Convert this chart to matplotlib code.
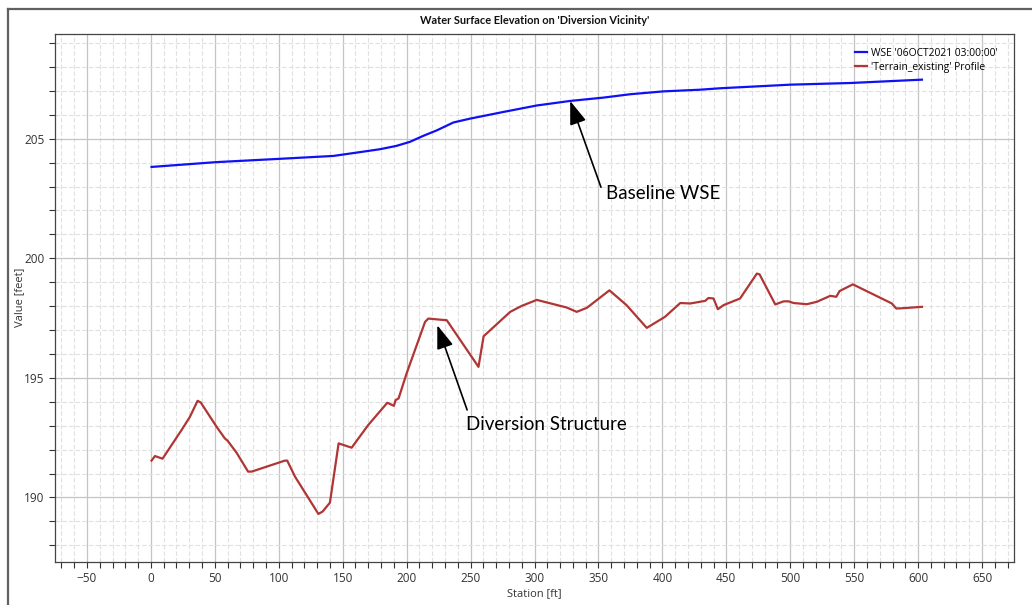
import matplotlib
matplotlib.use("Agg")
import matplotlib.pyplot as plt
from matplotlib.ticker import MultipleLocator
from matplotlib.lines import Line2D

# Water surface profile (station ft, elevation ft)
wse_station = [0.5, 50.8, 101, 142.7, 161, 179, 192, 202.6, 213, 223.6, 236.6,
               249.6, 275.7, 301.8, 327.9, 354, 374.8, 400.9, 429.6, 445.2,
               500, 547, 603]
wse_elev = [203.82, 204.02, 204.16, 204.28, 204.42, 204.56, 204.70, 204.87,
            205.12, 205.35, 205.68, 205.84, 206.12, 206.39, 206.58, 206.72,
            206.86, 206.98, 207.05, 207.11, 207.26, 207.33, 207.47]

# Existing terrain profile
terrain_station = [0.5, 3.2, 9.1, 24, 30.5, 36.5, 39, 51.3, 57.8, 60, 67, 76,
                   78.8, 104.8, 106.6, 112.7, 131, 134.3, 140, 146.8, 157, 170,
                   184.9, 190, 191.4, 193.7, 200, 214.4, 217, 224.8, 231.4,
                   256.2, 260.2, 281, 290, 301.8, 325.3, 333, 341, 358.6, 372,
                   387.8, 402, 414, 421.8, 433.5, 436, 440, 443.4, 447.8,
                   460.8, 473.9, 476, 488.3, 494.8, 498.7, 502.6, 513, 520.8,
                   531.3, 536, 538.6, 549, 579.5, 582.9, 587.3, 603]
terrain_elev = [191.54, 191.73, 191.62, 192.82, 193.37, 194.04, 193.97, 192.96,
                192.47, 192.37, 191.87, 191.08, 191.08, 191.54, 191.54, 190.87,
                189.31, 189.41, 189.78, 192.26, 192.08, 193.03, 193.96, 193.83,
                194.07, 194.14, 195.19, 197.34, 197.48, 197.44, 197.41, 195.46,
                196.74, 197.76, 198.01, 198.26, 197.94, 197.76, 197.93, 198.66,
                198.04, 197.09, 197.55, 198.13, 198.11, 198.22, 198.34, 198.32,
                197.87, 198.04, 198.32, 199.36, 199.33, 198.07, 198.20, 198.20,
                198.13, 198.08, 198.18, 198.43, 198.39, 198.63, 198.91, 198.11,
                197.90, 197.91, 197.97]

wse_label = "WSE '06OCT2021 03:00:00'"
terrain_label = "'Terrain_existing' Profile"
title = "Water Surface Elevation on 'Diversion Vicinity'"

# Callouts: text, arrow head (station, elev), arrow tail, text anchor
wse_callout = ("Baseline WSE", (327.9, 206.58), (352, 202.97), (356, 202.72))
div_callout = ("Diversion Structure", (224, 197.2), (247.3, 193.66), (246.5, 193.04))

ui_font = ["Open Sans", "DejaVu Sans"]
note_font = ["Lato", "DejaVu Sans"]

fig = plt.figure(figsize=(10.32, 6.05), dpi=100)
ax = fig.add_axes([55 / 1032, 1 - 562 / 605, (1014 - 55) / 1032, (562 - 33.5) / 605])

ax.plot(wse_station, wse_elev, color="#1010f5", lw=1.6, label=wse_label,
        solid_joinstyle="round", zorder=3)
ax.plot(terrain_station, terrain_elev, color="#b03535", lw=1.6,
        label=terrain_label, solid_joinstyle="round", zorder=3)

ax.set_xlim(-75, 675)
ax.set_ylim(187.3, 209.4)
ax.xaxis.set_major_locator(MultipleLocator(50))
ax.xaxis.set_minor_locator(MultipleLocator(10))
ax.yaxis.set_major_locator(MultipleLocator(5))
ax.yaxis.set_minor_locator(MultipleLocator(1))

ax.grid(which="major", color="#c4c4c4", lw=0.9, ls="-", zorder=0)
ax.grid(which="minor", color="#e0e0e0", lw=0.8, ls=(0, (4, 2)), zorder=0)
ax.set_axisbelow(True)

ax.tick_params(which="both", direction="out", length=4, width=0.8,
               color="#333333", labelcolor="#333333", labelsize=8.5)
for lab in ax.get_xticklabels() + ax.get_yticklabels():
    lab.set_family(ui_font)
for side in ("top", "right", "bottom", "left"):
    ax.spines[side].set_color("#444444")
    ax.spines[side].set_linewidth(0.9)

ax.set_xlabel("Station [ft]", family=ui_font, fontsize=8, color="#333333", labelpad=2)
ax.set_ylabel("Value [feet]", family=ui_font, fontsize=8, color="#333333", labelpad=-1)
fig.text(0.5 * (55 + 1014) / 1032, 1 - 20 / 605, title, ha="center", va="center",
         family=["Lato", "DejaVu Sans"], fontweight="bold",
         fontsize=7.9, color="#111111")

leg = ax.legend(loc="upper right", bbox_to_anchor=(0.99, 0.985), frameon=False,
                prop={"family": ui_font, "size": 7.4}, handlelength=1.2,
                handletextpad=0.4, labelspacing=0.3, borderaxespad=0.2)

for text, head, tail, text_pos in (wse_callout, div_callout):
    ax.annotate("", xy=head, xytext=tail,
                arrowprops=dict(arrowstyle="-|>,head_length=0.9,head_width=0.32",
                                color="black", lw=1.2, shrinkA=0, shrinkB=0,
                                mutation_scale=16), zorder=5)
    ax.text(text_pos[0], text_pos[1], text, family=note_font, fontsize=13.5,
            ha="left", va="center", color="black", zorder=5)

# Window frame around the plot panel
fig.add_artist(Line2D([8 / 1032, 1.0], [1 - 9 / 605, 1 - 9 / 605],
                      transform=fig.transFigure, color="#606060", lw=1.6))
fig.add_artist(Line2D([8 / 1032, 8 / 1032], [0.0, 1 - 9 / 605],
                      transform=fig.transFigure, color="#606060", lw=1.6))

fig.savefig("out.png", dpi=100)
